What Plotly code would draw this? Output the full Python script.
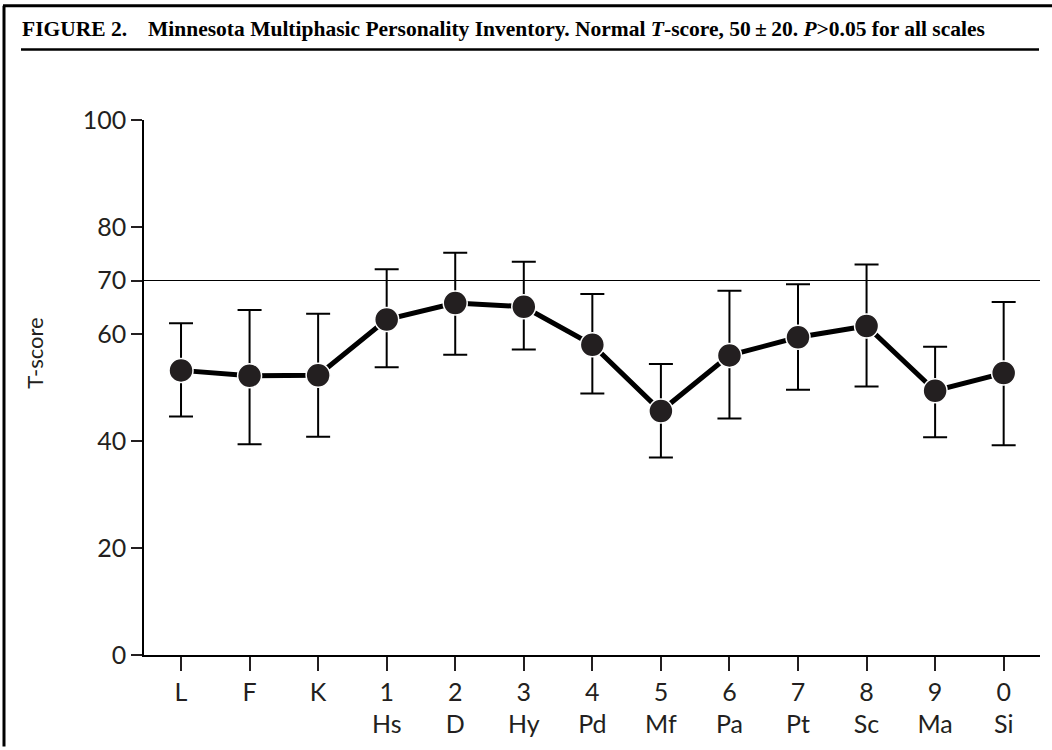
import plotly.graph_objects as go

# ---- data ----
scale_codes = ["L", "F", "K", "1", "2", "3", "4", "5", "6", "7", "8", "9", "0"]
scale_names = ["", "", "", "Hs", "D", "Hy", "Pd", "Mf", "Pa", "Pt", "Sc", "Ma", "Si"]
mean_t = [53.2, 52.2, 52.3, 62.7, 65.8, 65.1, 58.0, 45.6, 56.0, 59.4, 61.5, 49.4, 52.7]
upper_t = [62.0, 64.5, 63.8, 72.1, 75.2, 73.5, 67.5, 54.4, 68.1, 69.3, 73.0, 57.6, 66.0]
lower_t = [44.6, 39.4, 40.8, 53.8, 56.1, 57.1, 48.9, 36.9, 44.2, 49.6, 50.2, 40.7, 39.2]
y_ticks = [0, 20, 40, 60, 70, 80, 100]
ref_line = 70

W, H = 1052, 750
L_M, R_M, T_M, B_M = 144, 12, 120, 92
PW, PH = W - L_M - R_M, H - T_M - B_M


def px(x):
    return (x - L_M) / PW


def py(y):
    return (H - B_M - y) / PH


xs = list(range(len(scale_codes)))
ticktext = [c if n == "" else f"{c}<br>{n}" for c, n in zip(scale_codes, scale_names)]
err_plus = [u - m for u, m in zip(upper_t, mean_t)]
err_minus = [m - l for m, l in zip(mean_t, lower_t)]

ink = "#231f20"
tick_font = dict(family="Lato, Noto Sans, sans-serif", size=25, color=ink)
title_font = dict(family="Liberation Serif, Times New Roman, serif", size=21.5, color="black")

fig = go.Figure()
fig.add_trace(go.Scatter(
    x=xs, y=mean_t, mode="lines+markers",
    line=dict(color="black", width=5),
    marker=dict(size=24, color=ink, line=dict(color="white", width=1.5)),
    error_y=dict(type="data", symmetric=False, array=err_plus, arrayminus=err_minus,
                 color="black", thickness=2, width=12),
    showlegend=False, hoverinfo="skip",
))

fig.update_layout(
    width=W, height=H,
    margin=dict(l=L_M, r=R_M, t=T_M, b=B_M),
    paper_bgcolor="white", plot_bgcolor="white",
    xaxis=dict(range=[-0.54, 12.53], tickvals=xs, ticktext=ticktext,
               showgrid=False, zeroline=False, showline=True, linecolor="black", linewidth=1.5,
               ticks="outside", ticklen=14, tickwidth=1.5, tickcolor=ink,
               tickfont=tick_font),
    yaxis=dict(range=[0, 100], tickvals=y_ticks, ticktext=[str(v) for v in y_ticks],
               showgrid=False, zeroline=False, showline=True, linecolor="black", linewidth=1.5,
               ticks="outside", ticklen=11, tickwidth=1.5, tickcolor=ink,
               tickfont=tick_font),
    shapes=[
        dict(type="line", xref="paper", yref="y", x0=0, x1=1, y0=ref_line, y1=ref_line,
             line=dict(color="black", width=1.2)),
        dict(type="line", xref="paper", yref="paper", x0=px(4), x1=px(4), y0=py(5), y1=py(750),
             line=dict(color="black", width=3)),
        dict(type="line", xref="paper", yref="paper", x0=px(3), x1=px(1052), y0=py(5), y1=py(5),
             line=dict(color="black", width=3)),
        dict(type="line", xref="paper", yref="paper", x0=px(21), x1=px(1039), y0=py(49), y1=py(49),
             line=dict(color="black", width=2.5)),
    ],
    annotations=[
        dict(xref="paper", yref="paper", x=px(20), y=py(28), xanchor="left", yanchor="middle",
             text="<b>FIGURE 2.</b>", showarrow=False, font=title_font),
        dict(xref="paper", yref="paper", x=px(146), y=py(28), xanchor="left", yanchor="middle",
             text="<b>Minnesota Multiphasic Personality Inventory. Normal <i>T</i>-score, 50\u2009\u00b1\u200920. <i>P</i>&gt;0.05 for all scales</b>",
             showarrow=False, font=title_font),
        dict(xref="paper", yref="paper", x=px(35), y=py(355), xanchor="center", yanchor="middle",
             text="T-score", textangle=-90, showarrow=False,
             font=dict(family="Lato, Noto Sans, sans-serif", size=22, color=ink)),
    ],
)

fig.write_html("out.html")
